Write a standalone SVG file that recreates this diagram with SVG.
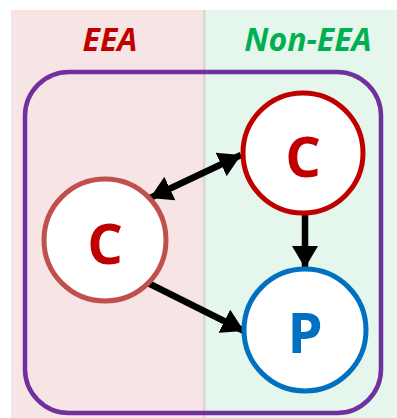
<svg xmlns="http://www.w3.org/2000/svg" width="397" height="418" viewBox="0 0 397 418">
<style>
.lbl{font-family:"Open Sans","Liberation Sans",sans-serif;font-weight:bold;font-style:italic;font-size:32px;text-anchor:middle}
.node{font-family:"Open Sans","Liberation Sans",sans-serif;font-weight:bold;font-size:56px;text-anchor:middle}
.conn{stroke:#000;stroke-width:6.5;fill:none}
</style>
<defs>
<marker id="ah" markerUnits="userSpaceOnUse" markerWidth="22" markerHeight="26" viewBox="0 0 22 26" refX="22" refY="13" orient="auto-start-reverse">
<path d="M0,0 L22,13 L0,26 Z" fill="#000"/>
</marker>
</defs>
<rect x="11" y="10" width="193" height="408" fill="#F7E5E5"/>
<rect x="204" y="10" width="193" height="408" fill="#E5F6EC"/>
<rect x="203" y="10" width="2.5" height="408" fill="#DAD6D0"/>
<text class="lbl" x="110" y="51" fill="#C00000">EEA</text>
<text class="lbl" x="308" y="51" fill="#00B050">Non-EEA</text>
<rect id="group" x="25" y="72" width="356" height="341" rx="44" fill="none" stroke="#7030A0" stroke-width="4.5"/>
<g id="connectors">
<line class="conn" x1="150" y1="198" x2="241" y2="155" marker-start="url(#ah)" marker-end="url(#ah)"/>
<line class="conn" x1="305" y1="215" x2="305" y2="268" marker-end="url(#ah)"/>
<line class="conn" x1="148" y1="283" x2="244" y2="331" marker-end="url(#ah)"/>
</g>
<g id="nodeC1">
<circle cx="303" cy="153" r="60" fill="#fff" stroke="#C00000" stroke-width="5"/>
<text class="node" x="303" y="177" fill="#C00000">C</text>
</g>
<g id="nodeC2">
<circle cx="105" cy="240" r="61" fill="#fff" stroke="#C0504D" stroke-width="5"/>
<text class="node" x="105" y="264" fill="#C00000">C</text>
</g>
<g id="nodeP">
<circle cx="305" cy="330" r="61" fill="#fff" stroke="#0070C0" stroke-width="5"/>
<text class="node" x="305" y="353" fill="#0070C0">P</text>
</g>
</svg>
